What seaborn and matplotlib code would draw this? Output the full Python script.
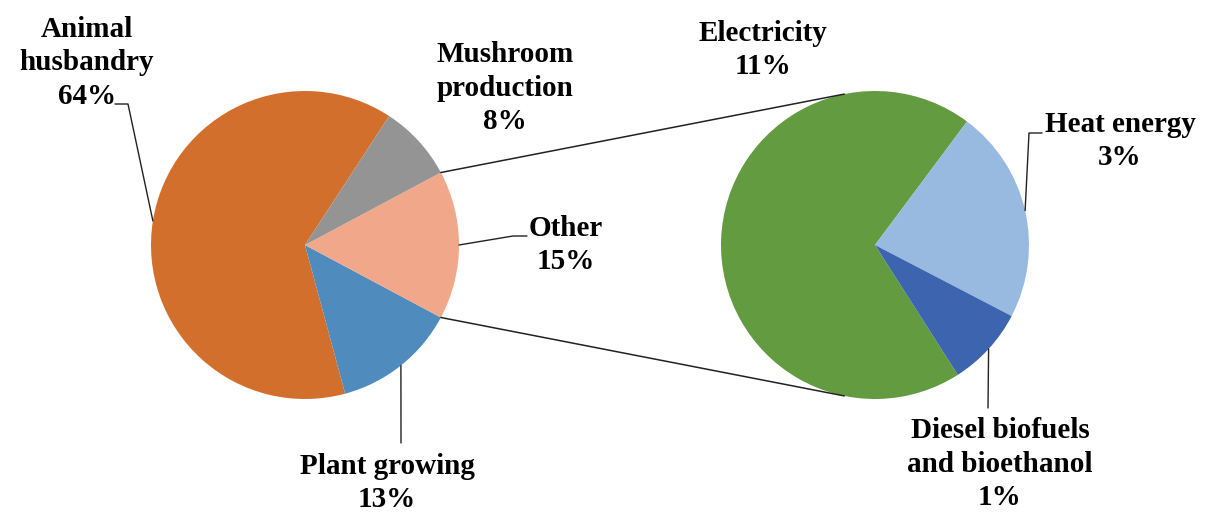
import matplotlib
matplotlib.use("Agg")
import matplotlib.pyplot as plt
import seaborn as sns
import numpy as np

sns.set_style("white")
plt.rcParams['font.family'] = ['Liberation Serif', 'DejaVu Serif']

# Main pie: shares of the total, with printed labels
main_names = ["Animal\nhusbandry", "Plant growing", "Other", "Mushroom\nproduction"]
main_shares = [63.4, 13.0, 15.6, 8.0]
main_pct = ["64%", "13%", "15%", "8%"]
main_colors = ["#D36F2C", "#508BBE", "#F1A88A", "#949494"]

# Secondary pie: breakdown of "Other"
sub_names = ["Electricity", "Heat energy", "Diesel biofuels\nand bioethanol"]
sub_shares = [10.8, 3.5, 1.3]
sub_pct = ["11%", "3%", "1%"]
sub_colors = ["#639B40", "#99BAE0", "#3D64AE"]

W, H = 1205, 512
fig = plt.figure(figsize=(W / 100, H / 100), dpi=100)
ax = fig.add_axes([0, 0, 1, 1])

r = 154
c1 = (305, H - 245)
c2 = (875, H - 245)

# main pie: "Other" centred on the right-hand side
other_frac = main_shares[2] / sum(main_shares)
mush_frac = main_shares[3] / sum(main_shares)
start1 = 360 * (other_frac / 2 + mush_frac)
w1, _ = ax.pie(main_shares, colors=main_colors, startangle=start1, counterclock=True,
               center=c1, radius=r, wedgeprops=dict(linewidth=0))

# secondary pie
elec_frac = sub_shares[0] / sum(sub_shares)
start2 = 53.3 + 360 * elec_frac
w2, _ = ax.pie(sub_shares, colors=sub_colors, startangle=start2, counterclock=False,
               center=c2, radius=r, wedgeprops=dict(linewidth=0))

ax.set_xlim(0, W)
ax.set_ylim(0, H)
ax.set_aspect('equal')
ax.axis('off')


def edge_point(center, ang):
    a = np.deg2rad(ang)
    return center[0] + r * np.cos(a), center[1] + r * np.sin(a)


def mid_angle(w):
    return (w.theta1 + w.theta2) / 2


# connector lines between "Other" slice and the second pie
ow = w1[2]
for a1, a2 in [(ow.theta2, 101.5), (ow.theta1, -101.5)]:
    p1 = edge_point(c1, a1)
    p2 = edge_point(c2, a2)
    ax.plot([p1[0], p2[0]], [p1[1], p2[1]], color="#222222", lw=1.1)

txt = dict(fontsize=21, fontweight='bold', ha='center', va='center',
           multialignment='center', color='black', linespacing=1.33)

# label positions and leader-line elbows (pixel layout, y from top)
main_pos = [(87, 63), (387, 483), (566, 245), (505, 88)]
main_leader = [[(128, 104), (115, 104)], [(401, 443)], [(513, 236), (527, 236)], None]
sub_pos = [(763, 50), (1120, 141), (1000, 464)]
sub_leader = [None, [(1029, 133), (1042, 133)], [(988, 408)]]


def draw_labels(wedges, center, names, pcts, pos, leaders):
    for w, n, p, xy, ld in zip(wedges, names, pcts, pos, leaders):
        ax.text(xy[0], H - xy[1], n + "\n" + p, **txt)
        if ld is None:
            continue
        pts = [edge_point(center, mid_angle(w))] + [(x, H - y) for x, y in ld]
        xs, ys = zip(*pts)
        ax.plot(xs, ys, color="#222222", lw=1.0)


draw_labels(w1, c1, main_names, main_pct, main_pos, main_leader)
draw_labels(w2, c2, sub_names, sub_pct, sub_pos, sub_leader)

fig.savefig("out.png", dpi=100)
